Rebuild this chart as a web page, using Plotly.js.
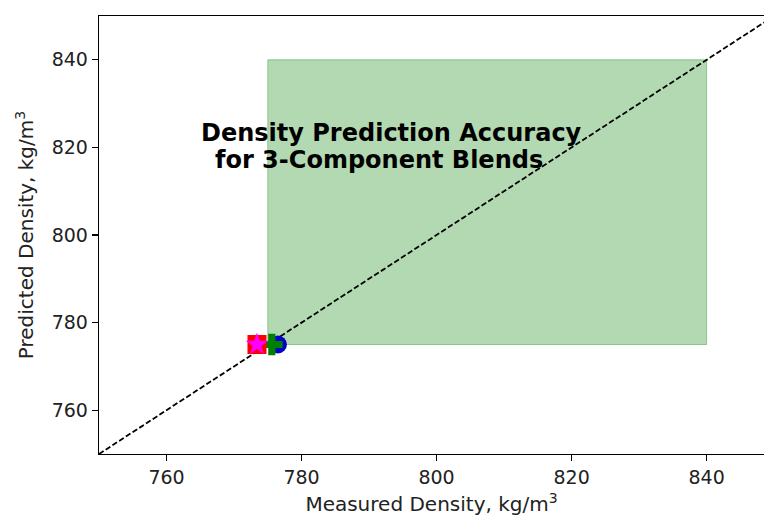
<!DOCTYPE html>
<html>
<head>
<meta charset="utf-8">
<script src="https://cdn.plot.ly/plotly-3.0.1.min.js"></script>
<style>html,body{margin:0;padding:0;background:#fff;}</style>
</head>
<body>
<div id="chart" style="width:764px;height:521px;"></div>
<script>
// Data
const xRange = [750, 848.5];
const yRange = [750, 850];
const identityLine = [750, 850];
const accuracyBoxX = [775, 840];
const accuracyBoxY = [775, 840];
const tickVals = [760, 780, 800, 820, 840];

const blendNames = ["Blend D", "Blend C", "Blend A", "Blend B"];
const measured = [776.5, 775.6, 773.4, 773.4];
const predicted = [775.0, 775.0, 775.0, 775.0];
const blendColors = ["#0000cc", "#008000", "#ff0000", "#ff00ff"];
const blendSymbols = ["circle", "cross", "square", "star"];
const blendSizes = [18, 18, 19, 17];

const titleLines = ["Density Prediction Accuracy", "for 3-Component Blends"];
const titleX = [793.3, 791.5];
const titleY = [823.3, 817.1];

const traces = [{
  x: identityLine, y: identityLine, mode: "lines",
  line: {color: "black", width: 1.8, dash: "5.5px,2.5px"},
  hoverinfo: "skip", showlegend: false
}];
for (let i = 0; i < blendNames.length; i++) {
  traces.push({
    x: [measured[i]], y: [predicted[i]], mode: "markers", name: blendNames[i],
    marker: {color: blendColors[i], symbol: blendSymbols[i], size: blendSizes[i], line: {width: 0}},
    showlegend: false
  });
}

const axisCommon = {
  showline: true, linecolor: "black", linewidth: 1.3,
  ticks: "outside", ticklen: 6, tickwidth: 1.2, tickcolor: "black",
  showgrid: false, zeroline: false,
  tickfont: {family: "DejaVu Sans", size: 19, color: "#222"},
  tickvals: tickVals
};

const layout = {
  width: 764, height: 521,
  margin: {l: 99, r: 0, t: 16, b: 67},
  paper_bgcolor: "white", plot_bgcolor: "white",
  font: {family: "DejaVu Sans", color: "#222"},
  xaxis: Object.assign({}, axisCommon, {
    range: xRange, mirror: true, automargin: false,
    title: {text: "Measured Density, kg/m<sup>3</sup>", font: {family: "DejaVu Sans", size: 20, color: "#222"}, standoff: 10}
  }),
  yaxis: Object.assign({}, axisCommon, {
    range: yRange, automargin: false,
    title: {text: "Predicted Density, kg/m<sup>3</sup>", font: {family: "DejaVu Sans", size: 20, color: "#222"}, standoff: 12}
  }),
  shapes: [{
    type: "rect", xref: "x", yref: "y", layer: "below",
    x0: accuracyBoxX[0], x1: accuracyBoxX[1], y0: accuracyBoxY[0], y1: accuracyBoxY[1],
    fillcolor: "rgba(0,128,0,0.3)", line: {color: "rgba(0,128,0,0.35)", width: 1}
  }],
  annotations: titleLines.map((t, i) => ({
    x: titleX[i], y: titleY[i], xref: "x", yref: "y", showarrow: false,
    xanchor: "center", yanchor: "middle",
    text: "<b>" + t + "</b>",
    font: {family: "DejaVu Sans", size: 24, color: "black"}
  }))
};

Plotly.newPlot("chart", traces, layout, {displayModeBar: false, staticPlot: true});
</script>
</body>
</html>
